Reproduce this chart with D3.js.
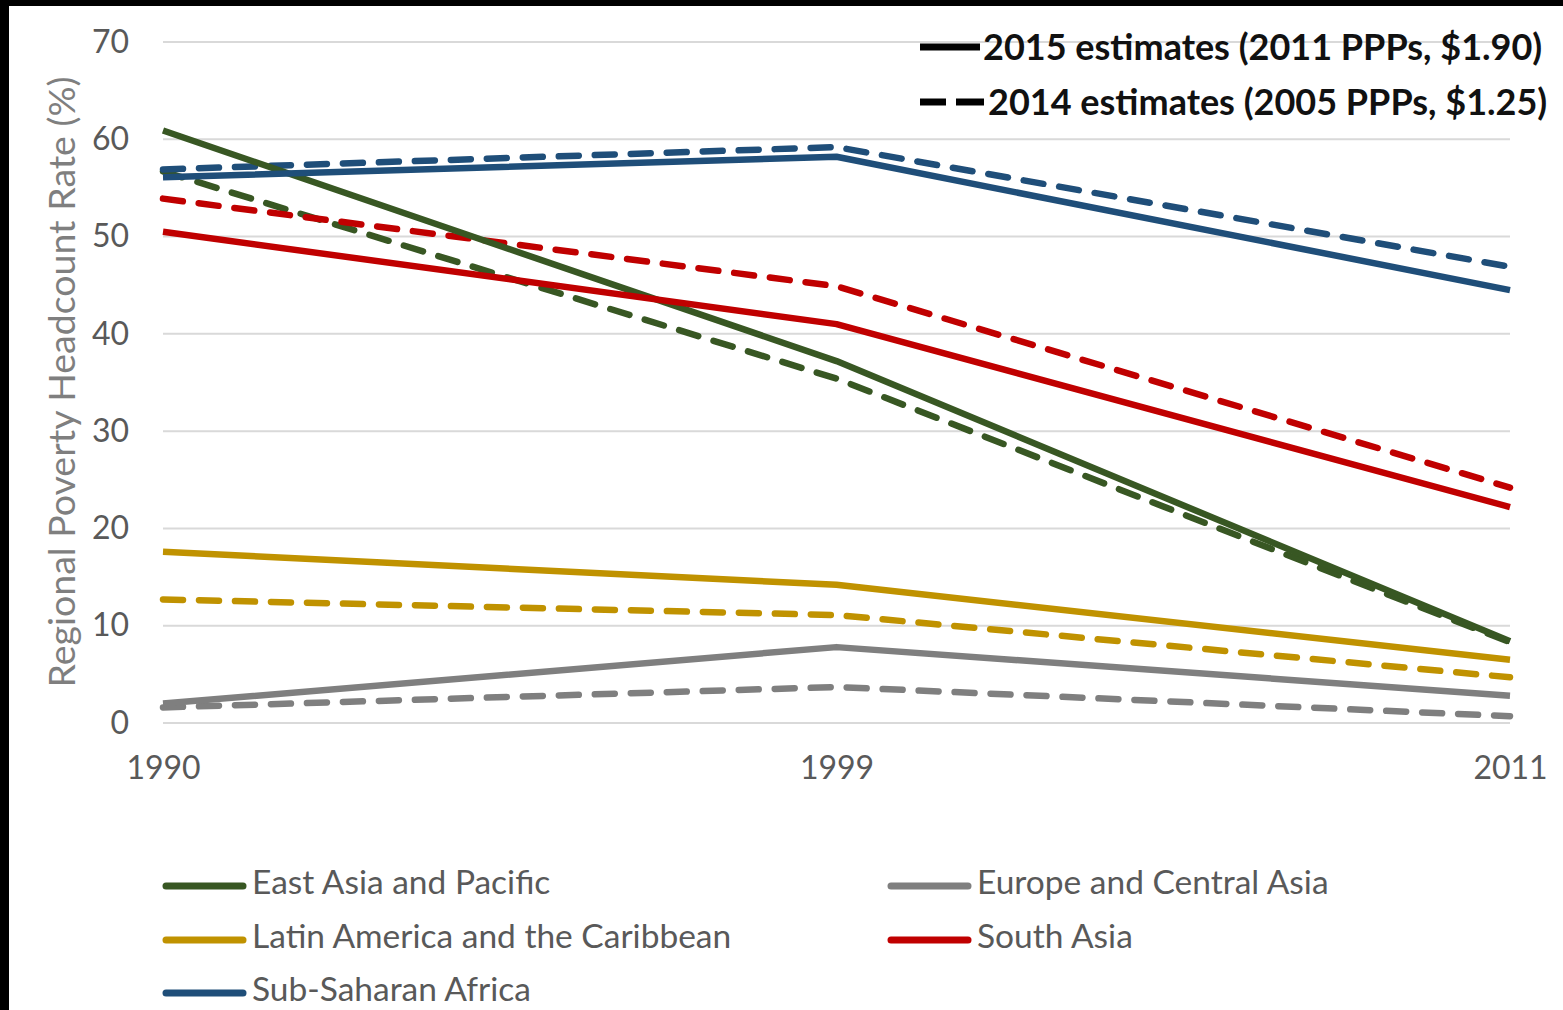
<!DOCTYPE html>
<html>
<head>
<meta charset="utf-8">
<script src="https://cdnjs.cloudflare.com/ajax/libs/d3/7.8.5/d3.min.js"></script>
<style>
  html, body { margin: 0; padding: 0; background: #000; }
  svg { display: block; }
</style>
</head>
<body>
<svg id="chart" width="1563" height="1010"></svg>
<script>
// Regional poverty headcount rates (%) under two sets of estimates
const years = ["1990", "1999", "2011"];
const regions = ["East Asia and Pacific", "Europe and Central Asia", "Latin America and the Caribbean", "South Asia", "Sub-Saharan Africa"];
const regionColors = ["#385723", "#7f7f7f", "#c09200", "#c00000", "#1f4e79"];

// 2015 estimates (2011 PPPs, $1.90)
const est2015 = {
  "East Asia and Pacific": [60.9, 37.2, 8.4],
  "Europe and Central Asia": [2.0, 7.8, 2.8],
  "Latin America and the Caribbean": [17.6, 14.2, 6.5],
  "South Asia": [50.5, 41.0, 22.2],
  "Sub-Saharan Africa": [56.1, 58.2, 44.5]
};
// 2014 estimates (2005 PPPs, $1.25)
const est2014 = {
  "East Asia and Pacific": [56.7, 35.4, 8.3],
  "Europe and Central Asia": [1.6, 3.7, 0.7],
  "Latin America and the Caribbean": [12.7, 11.1, 4.7],
  "South Asia": [53.9, 44.9, 24.2],
  "Sub-Saharan Africa": [56.9, 59.2, 46.9]
};
const yTicks = [0, 10, 20, 30, 40, 50, 60, 70];
const yTitle = "Regional Poverty Headcount Rate (%)";
const seriesLegend = ["2015 estimates (2011 PPPs, $1.90)", "2014 estimates (2005 PPPs, $1.25)"];

const svg = d3.select("#chart");
const font = "Lato, 'Open Sans', sans-serif";

// white page with a dark frame along the top and left
svg.append("rect").attr("x", 9).attr("y", 6).attr("width", 1563 - 9).attr("height", 1010 - 6).attr("fill", "#fff");

const x = d3.scalePoint().domain(years).range([163, 1510]);
const y = d3.scaleLinear().domain([0, 70]).range([723, 42]);

// gridlines
svg.append("g").selectAll("line").data(yTicks).join("line")
  .attr("x1", 163).attr("x2", 1510)
  .attr("y1", d => y(d)).attr("y2", d => y(d))
  .attr("stroke", "#d9d9d9").attr("stroke-width", 2);

// y axis labels
const yAxis = svg.append("g").attr("transform", "translate(129,0)")
  .call(d3.axisLeft(y).tickValues(yTicks).tickSize(0).tickPadding(0));
yAxis.select(".domain").remove();
yAxis.selectAll("text").attr("font-family", font).attr("font-size", 32).attr("fill", "#595959");

// x axis labels
const xAxis = svg.append("g").attr("transform", "translate(0,756)")
  .call(d3.axisBottom(x).tickSize(0).tickPadding(0));
xAxis.select(".domain").remove();
xAxis.selectAll("text").attr("font-family", font).attr("font-size", 32).attr("fill", "#595959");

// y axis title
svg.append("text")
  .attr("transform", "translate(75,382) rotate(-90)")
  .attr("text-anchor", "middle")
  .attr("font-family", font).attr("font-size", 37.5).attr("fill", "#7f7f7f")
  .text(yTitle);

const line = d3.line().x((d, i) => x(years[i])).y(d => y(d));

const lines = svg.append("g").attr("fill", "none").attr("stroke-width", 6.5);
// dashed series first, solid on top
regions.forEach((r, i) => {
  lines.append("path").datum(est2014[r]).attr("d", line)
    .attr("stroke", regionColors[i])
    .attr("stroke-dasharray", "20,16")
    .attr("stroke-linecap", "round").attr("stroke-linejoin", "round");
});
regions.forEach((r, i) => {
  lines.append("path").datum(est2015[r]).attr("d", line)
    .attr("stroke", regionColors[i])
    .attr("stroke-linejoin", "round");
});

// legend for estimate vintages
const topLegend = svg.append("g");
seriesLegend.forEach((t, i) => {
  const ly = 47 + i * 55;
  const g = topLegend.append("g");
  if (i === 0) {
    g.append("line").attr("x1", 920).attr("x2", 980).attr("y1", ly).attr("y2", ly)
      .attr("stroke", "#000").attr("stroke-width", 7);
  } else {
    g.append("line").attr("x1", 920).attr("x2", 946).attr("y1", ly).attr("y2", ly)
      .attr("stroke", "#000").attr("stroke-width", 7);
    g.append("line").attr("x1", 956).attr("x2", 984).attr("y1", ly).attr("y2", ly)
      .attr("stroke", "#000").attr("stroke-width", 7);
  }
  g.append("text").attr("x", i === 0 ? 983 : 988).attr("y", ly).attr("dy", "0.35em")
    .attr("font-family", font).attr("font-weight", "bold").attr("font-size", 36)
    .attr("fill", "#111").text(t);
});

// legend for regions
const legendPos = [
  [163, 882], [888, 882], [163, 936], [888, 936], [163, 989]
];
const regLegend = svg.append("g");
regions.forEach((r, i) => {
  const [lx, ly] = legendPos[i];
  regLegend.append("line").attr("x1", lx + 3).attr("x2", lx + 80).attr("y1", ly + 4).attr("y2", ly + 4)
    .attr("stroke", regionColors[i]).attr("stroke-width", 7).attr("stroke-linecap", "round");
  regLegend.append("text").attr("x", lx + 89).attr("y", ly).attr("dy", "0.35em")
    .attr("font-family", font).attr("font-size", 33.5).attr("fill", "#595959")
    .text(r);
});
</script>
</body>
</html>
